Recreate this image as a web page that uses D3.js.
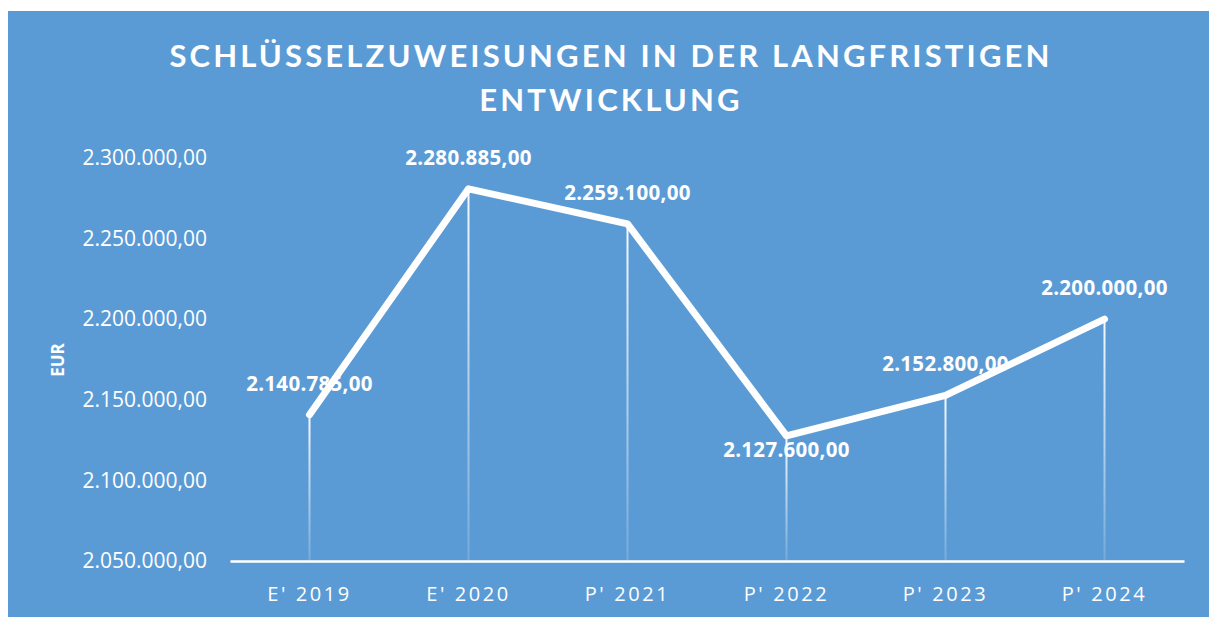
<!DOCTYPE html>
<html>
<head>
<meta charset="utf-8">
<script src="https://cdn.jsdelivr.net/npm/d3@7"></script>
<style>
  html, body { margin: 0; padding: 0; background: #ffffff; }
  svg { display: block; }
  text { font-family: "Open Sans", Lato, sans-serif; fill: #ffffff; }
</style>
</head>
<body>
<svg id="chart" width="1209" height="617"></svg>
<script>
// Schlüsselzuweisungen (EUR) per year: E = Ergebnis, P = Plan
const categories = ["E' 2019", "E' 2020", "P' 2021", "P' 2022", "P' 2023", "P' 2024"];
const values = [2140785, 2280885, 2259100, 2127600, 2152800, 2200000];
const yTicks = [2050000, 2100000, 2150000, 2200000, 2250000, 2300000];
const titleLines = ["SCHLÜSSELZUWEISUNGEN IN DER LANGFRISTIGEN", "ENTWICKLUNG"];
const yAxisTitle = "EUR";

const svg = d3.select("#chart");
const W = 1209, H = 617;
const bg = { x: 8, y: 11 };
const plot = { left: 230, right: 1184, top: 158, bottom: 561 };

// German number format: 2.300.000,00
const de = d3.formatLocale({ decimal: ",", thousands: ".", grouping: [3], currency: ["", " €"] });
const fmt = de.format(",.2f");

svg.append("rect")
  .attr("x", bg.x).attr("y", bg.y)
  .attr("width", W - bg.x).attr("height", H - bg.y)
  .attr("fill", "#5b9bd5");

const x = d3.scaleBand().domain(categories).range([plot.left, plot.right]);
const y = d3.scaleLinear().domain([2050000, 2300000]).range([plot.bottom, plot.top]);
const cx = c => x(c) + x.bandwidth() / 2;

// Title
svg.append("g").selectAll("text")
  .data(titleLines).join("text")
  .attr("x", 611)
  .attr("y", (d, i) => 67 + i * 44)
  .attr("text-anchor", "middle")
  .attr("font-size", 31)
  .attr("font-weight", 700)
  .attr("letter-spacing", 3.15)
  .style("font-family", "Lato, 'Open Sans', sans-serif")
  .text(d => d);

// Y axis tick labels
const yAxis = d3.axisLeft(y).tickValues(yTicks).tickFormat(fmt).tickSize(0).tickPadding(0);
const yg = svg.append("g").attr("transform", "translate(207,0)").call(yAxis);
yg.select(".domain").remove();
yg.selectAll("text")
  .attr("font-size", 21)
  .attr("fill", "#ffffff")
  .style("font-family", "'Open Sans', Lato, sans-serif");

// Y axis title
svg.append("text")
  .attr("transform", "translate(64,360) rotate(-90)")
  .attr("text-anchor", "middle")
  .attr("font-size", 17)
  .attr("font-weight", 700)
  .text(yAxisTitle);

// Drop lines from each point down to the axis, fading toward the bottom
const defs = svg.append("defs");
const grad = defs.append("linearGradient")
  .attr("id", "dropFade")
  .attr("gradientUnits", "objectBoundingBox")
  .attr("x1", 0).attr("y1", 0).attr("x2", 0).attr("y2", 1);
grad.append("stop").attr("offset", "0%").attr("stop-color", "#ffffff").attr("stop-opacity", 0.95);
grad.append("stop").attr("offset", "100%").attr("stop-color", "#ffffff").attr("stop-opacity", 0.15);

svg.append("g").selectAll("rect")
  .data(categories).join("rect")
  .attr("x", (d) => cx(d) - 1)
  .attr("y", (d, i) => y(values[i]))
  .attr("width", 2)
  .attr("height", (d, i) => plot.bottom - y(values[i]))
  .attr("fill", "url(#dropFade)");

// X axis line and labels
const xAxis = d3.axisBottom(x).tickSize(0).tickPadding(0);
const xg = svg.append("g").attr("transform", `translate(0,${plot.bottom})`).call(xAxis);
xg.select(".domain").attr("stroke", "#ffffff").attr("stroke-width", 2.5);
xg.selectAll("text")
  .attr("dy", 0)
  .attr("y", 40)
  .attr("font-size", 20)
  .attr("letter-spacing", 2.6)
  .attr("fill", "#ffffff")
  .style("font-family", "'Open Sans', Lato, sans-serif");

// Line
const line = d3.line()
  .x((d, i) => cx(categories[i]))
  .y(d => y(d));
svg.append("path")
  .datum(values)
  .attr("d", line)
  .attr("fill", "none")
  .attr("stroke", "#ffffff")
  .attr("stroke-width", 7)
  .attr("stroke-linejoin", "round")
  .attr("stroke-linecap", "round");

// Data labels (below the point where the line dips, otherwise above)
const below = values.map((v, i) => i > 0 && i < values.length - 1 && v < values[i - 1] && v < values[i + 1]);
svg.append("g").selectAll("text")
  .data(values).join("text")
  .attr("x", (d, i) => cx(categories[i]))
  .attr("y", (d, i) => below[i] ? y(d) + 21 : y(d) - 24)
  .attr("text-anchor", "middle")
  .attr("font-size", 20.5)
  .attr("font-weight", 700)
  .attr("letter-spacing", 0.3)
  .text(d => fmt(d));
</script>
</body>
</html>
